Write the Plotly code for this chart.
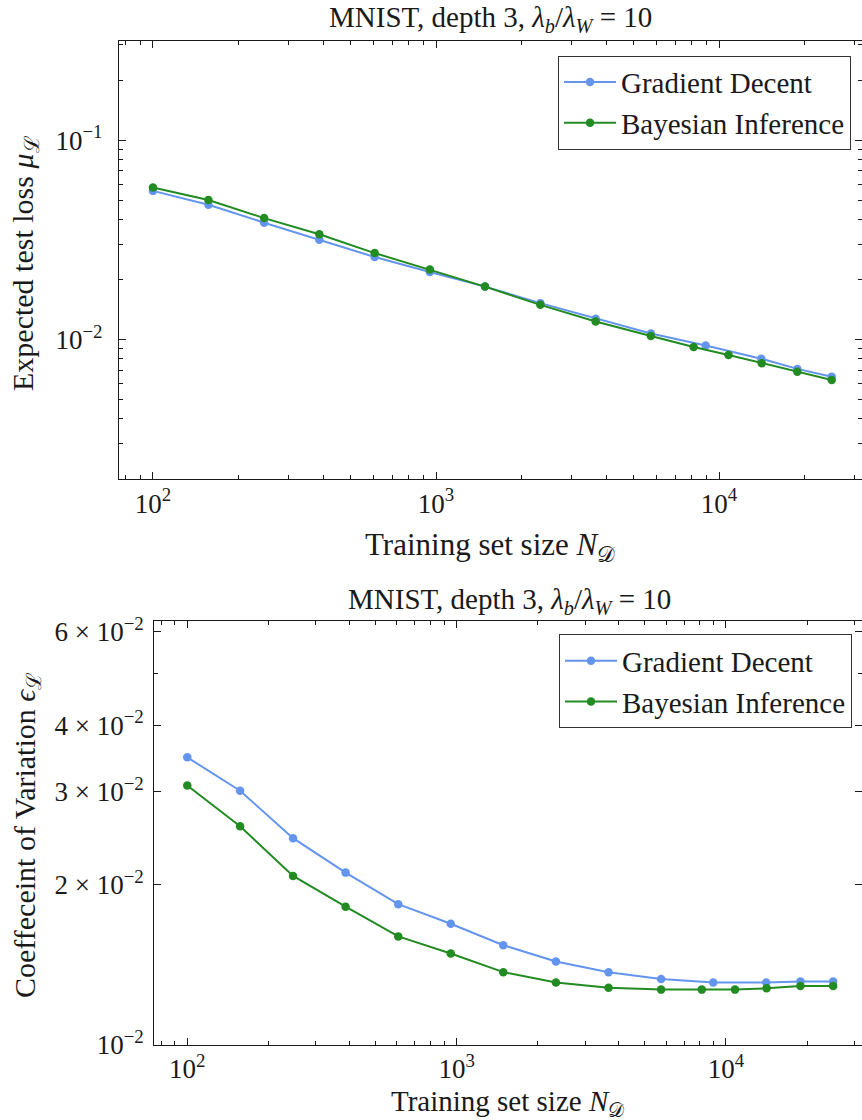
import plotly.graph_objects as go

# Training set sizes
n_gd = [100, 157, 247, 387, 607, 951, 1490, 2337, 3664, 5743, 8970, 14100, 18900, 25000]
n_bi = [100, 157, 247, 387, 607, 951, 1490, 2337, 3664, 5743, 8130, 10800, 14150, 18900, 25000]

# Expected test loss
loss_gd = [0.0556, 0.0474, 0.0385, 0.0316, 0.0259, 0.0218, 0.0184, 0.0152, 0.0127, 0.0107,
           0.00932, 0.0080, 0.00711, 0.00650]
loss_bi = [0.0578, 0.0500, 0.0406, 0.0337, 0.0271, 0.0224, 0.0184, 0.0149, 0.0123, 0.0104,
           0.00915, 0.00835, 0.00759, 0.00688, 0.00626]

# Coefficient of variation
cv_gd = [0.0348, 0.0301, 0.0245, 0.0211, 0.0184, 0.0169, 0.0154, 0.01435, 0.0137, 0.0133,
         0.0131, 0.0131, 0.01316, 0.01316]
cv_bi = [0.0308, 0.0258, 0.0208, 0.0182, 0.0160, 0.01485, 0.0137, 0.0131, 0.0128, 0.0127,
         0.0127, 0.0127, 0.01277, 0.0129, 0.0129]

x_major = [100, 1000, 10000]
x_major_text = ["10<sup>2</sup>", "10<sup>3</sup>", "10<sup>4</sup>"]
x_minor = [80, 90] + [d * m for d in (100, 1000) for m in range(2, 10)] + [20000, 30000]

loss_major = [0.1, 0.01]
loss_major_text = ["10<sup>−1</sup>", "10<sup>−2</sup>"]
loss_minor = [d * m for d in (0.001, 0.01, 0.1) for m in range(2, 10)]

cv_major = [0.01, 0.02, 0.03, 0.04, 0.06]
cv_major_text = ["10<sup>−2</sup>", "2 × 10<sup>−2</sup>", "3 × 10<sup>−2</sup>",
                 "4 × 10<sup>−2</sup>", "6 × 10<sup>−2</sup>"]
cv_minor = [0.05]

names = ["Gradient Decent", "Bayesian Inference"]
colors = ["#6495ED", "#228B22"]

W, H = 862, 1120
FONT = "Liberation Serif, 'Times New Roman', serif"
INK = "#1a1a1a"


def px(x):
    return x / W


def py(y):
    return 1 - y / H


fig = go.Figure()

for n, v, name, c in [(n_gd, loss_gd, names[0], colors[0]), (n_bi, loss_bi, names[1], colors[1])]:
    fig.add_trace(go.Scatter(x=n, y=v, name=name, mode="lines+markers",
                             line=dict(color=c, width=2), marker=dict(color=c, size=8.5),
                             xaxis="x", yaxis="y", legend="legend"))

for n, v, name, c in [(n_gd, cv_gd, names[0], colors[0]), (n_bi, cv_bi, names[1], colors[1])]:
    fig.add_trace(go.Scatter(x=n, y=v, name=name, mode="lines+markers",
                             line=dict(color=c, width=2), marker=dict(color=c, size=8.5),
                             xaxis="x2", yaxis="y2", legend="legend2"))

axis_common = dict(
    type="log", showgrid=False, zeroline=False, showline=True, linecolor=INK, linewidth=1.2,
    mirror="allticks", ticks="inside", ticklen=7, tickwidth=1, tickcolor=INK,
    tickmode="array", tickfont=dict(family=FONT, size=27, color=INK), automargin=False,
)


def minor(vals):
    return dict(ticks="inside", ticklen=4, tickwidth=1, tickcolor=INK,
                tickmode="array", tickvals=vals, showgrid=False)


legend_common = dict(xanchor="right", yanchor="top", bordercolor="#333333", borderwidth=1,
                     bgcolor="white", font=dict(family=FONT, size=29, color=INK),
                     tracegroupgap=0, itemwidth=52)

fig.update_layout(
    width=W, height=H, margin=dict(l=0, r=0, t=0, b=0, autoexpand=False),
    paper_bgcolor="white", plot_bgcolor="white",
    font=dict(family=FONT, color=INK),
    xaxis=dict(axis_common, domain=[px(119), 1], range=[1.880, 4.505], anchor="y",
               tickvals=x_major, ticktext=x_major_text, minor=minor(x_minor)),
    yaxis=dict(axis_common, domain=[py(479.3), py(41)], range=[-2.702, -0.503], anchor="x",
               tickvals=loss_major, ticktext=loss_major_text, minor=minor(loss_minor),
               ticklabelstandoff=10),
    xaxis2=dict(axis_common, domain=[px(154.3), 1], range=[1.8775, 4.505], anchor="y2",
                tickvals=x_major, ticktext=x_major_text, minor=minor(x_minor)),
    yaxis2=dict(axis_common, domain=[py(1044.7), py(620.7)], range=[-2.0, -1.201], anchor="x2",
                tickvals=cv_major, ticktext=cv_major_text, minor=minor(cv_minor),
                ticklabelstandoff=4),
    legend=dict(legend_common, x=px(851), y=py(55.7)),
    legend2=dict(legend_common, x=px(852), y=py(634.4)),
    showlegend=True,
)

title_text = "MNIST, depth 3, <i>λ<sub>b</sub></i>/<i>λ<sub>W</sub></i> = 10"
xlabel = "Training set size <i>N</i><sub>𝒟</sub>"

annots = [
    dict(text=title_text, x=px(490), y=py(19.5), size=29),
    dict(text=title_text, x=px(509), y=py(601), size=29),
    dict(text=xlabel, x=px(490), y=py(547), size=31),
    dict(text=xlabel, x=px(508), y=py(1103), size=29),
    dict(text="Expected test loss <i>μ</i><sub>ℒ</sub>", x=px(25), y=py(263), size=30, angle=-90),
    dict(text="Coeffeceint of Variation <i>ϵ</i><sub>ℒ</sub>", x=px(27), y=py(835), size=30, angle=-90),
]
for a in annots:
    fig.add_annotation(text=a["text"], x=a["x"], y=a["y"], xref="paper", yref="paper",
                       xanchor="center", yanchor="middle", showarrow=False,
                       textangle=a.get("angle", 0),
                       font=dict(family=FONT, size=a["size"], color=INK))

fig.write_html("out.html")
